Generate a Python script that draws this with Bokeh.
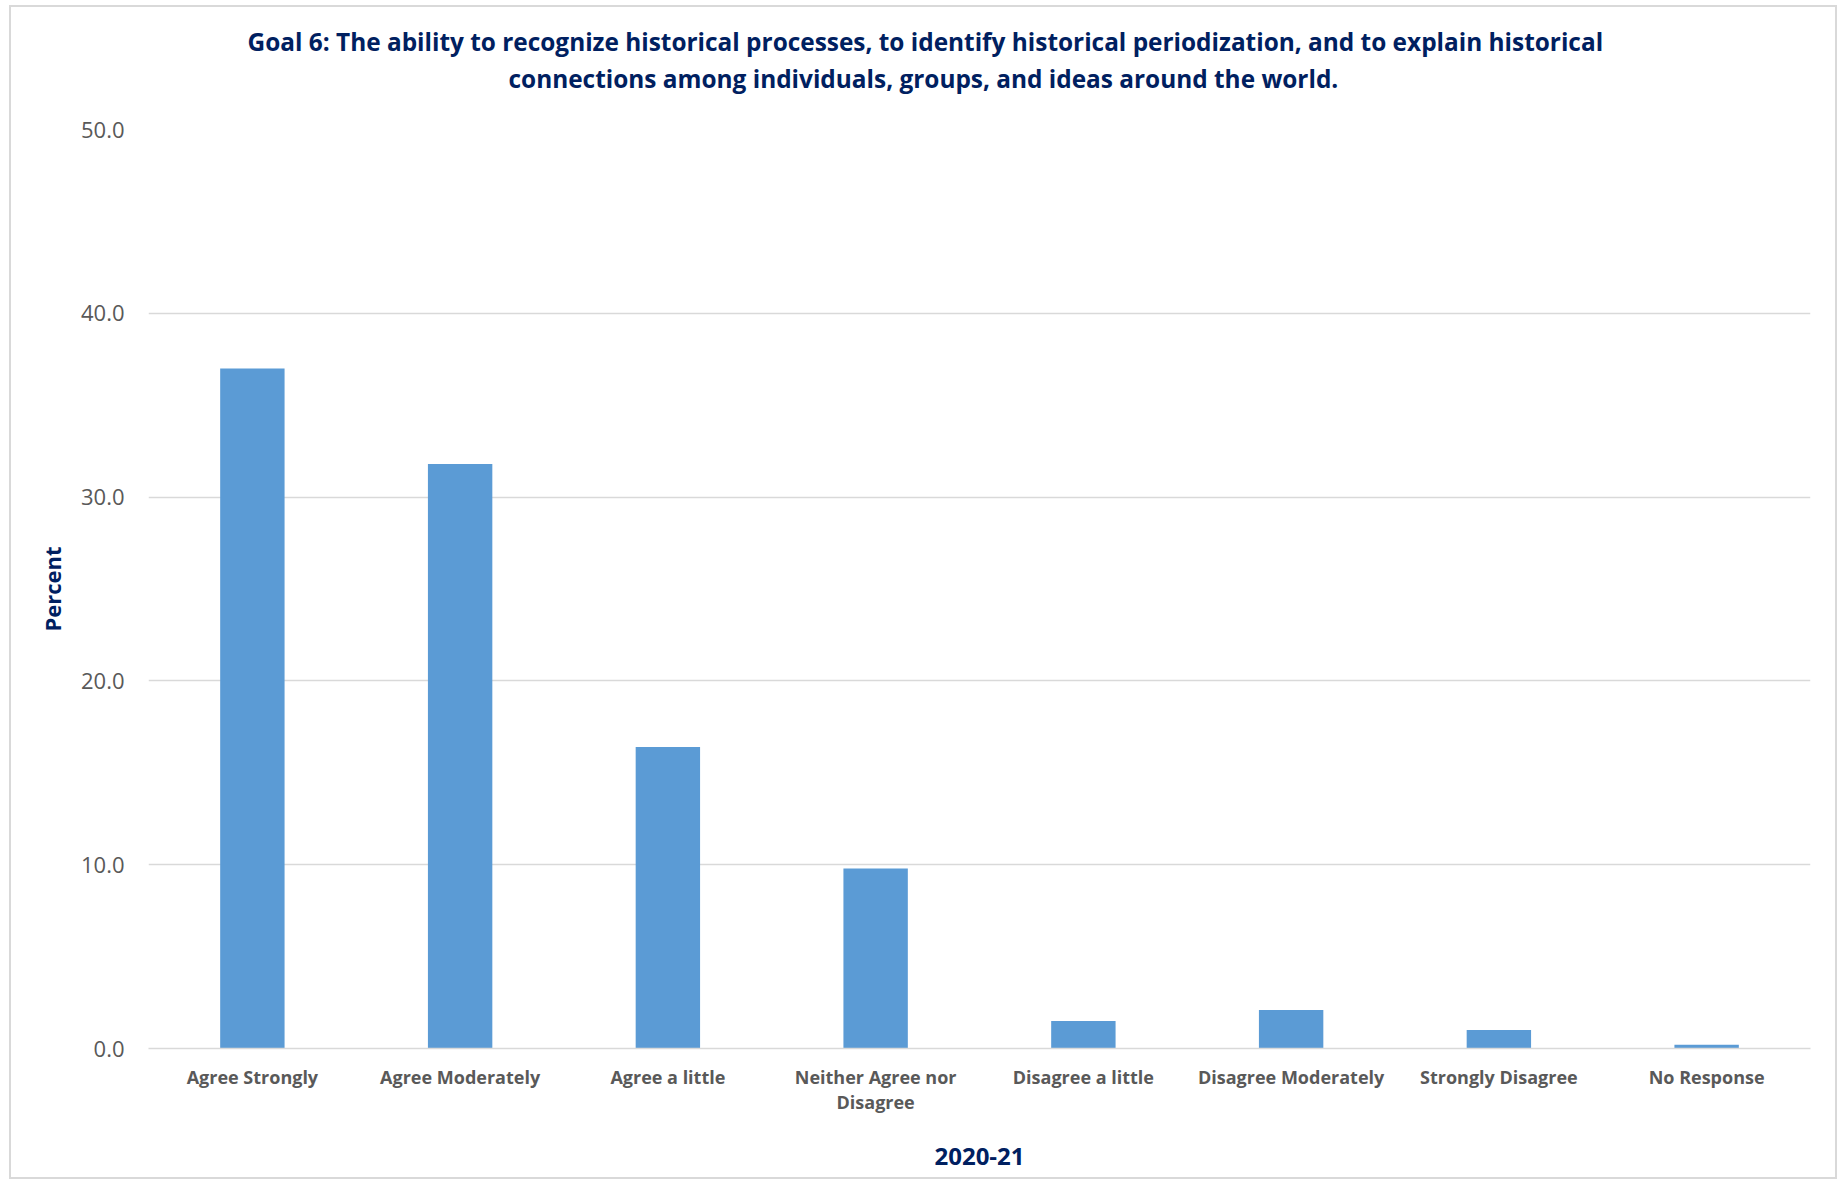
from bokeh.plotting import figure
from bokeh.models import Range1d, FactorRange, PrintfTickFormatter, FixedTicker, Title
from bokeh.embed import file_html
from bokeh.resources import INLINE

categories = ["Agree Strongly", "Agree Moderately", "Agree a little",
              "Neither Agree nor\nDisagree", "Disagree a little",
              "Disagree Moderately", "Strongly Disagree", "No Response"]
percent = [37.0, 31.8, 16.4, 9.8, 1.5, 2.1, 1.0, 0.2]
y_ticks = [0, 10, 20, 30, 40, 50]

title_line1 = "Goal 6: The ability to recognize historical processes, to identify historical periodization, and to explain historical"
title_line2 = "connections among individuals, groups, and ideas around the world."

FONT = "Open Sans"
NAVY = "#002060"
GRAY = "#595959"

p = figure(width=1828, height=1174, x_range=FactorRange(*categories, range_padding=0),
           y_range=Range1d(0, 50), output_backend="svg", toolbar_location=None,
           min_border_left=137, min_border_right=29, min_border_top=122, min_border_bottom=133)

# spacer between plot area and title block
p.add_layout(Title(text=" ", text_font=FONT, text_font_size="10px", standoff=18), "above")
for txt, off in ((title_line2, 360), (title_line1, 99)):
    t = Title(text=txt, align="left", text_font=FONT, text_font_size="24.4px",
              text_font_style="bold", text_color=NAVY, standoff=2, offset=off)
    p.add_layout(t, "above")

p.vbar(x=categories, top=percent, width=0.31, fill_color="#5B9BD5", line_color=None)

p.outline_line_color = None
p.xgrid.grid_line_color = None
p.ygrid.grid_line_color = "#D9D9D9"
p.ygrid.grid_line_width = 1.5

p.yaxis.ticker = FixedTicker(ticks=y_ticks)
p.yaxis.formatter = PrintfTickFormatter(format="%.1f")
p.yaxis.axis_line_color = None
p.yaxis.major_tick_line_color = None
p.yaxis.minor_tick_line_color = None
p.yaxis.major_label_standoff = 18
p.yaxis.major_label_text_font = FONT
p.yaxis.major_label_text_font_size = "22px"
p.yaxis.major_label_text_color = GRAY
p.yaxis.axis_label = "Percent"
p.yaxis.axis_label_text_font = FONT
p.yaxis.axis_label_text_font_size = "22px"
p.yaxis.axis_label_text_font_style = "bold"
p.yaxis.axis_label_text_color = NAVY
p.yaxis.axis_label_standoff = 11

p.xaxis.axis_line_color = "#D9D9D9"
p.xaxis.axis_line_width = 1.5
p.xaxis.major_tick_line_color = None
p.xaxis.minor_tick_line_color = None
p.xaxis.major_label_standoff = 10
p.xaxis.major_label_text_font = FONT
p.xaxis.major_label_text_font_size = "18px"
p.xaxis.major_label_text_font_style = "bold"
p.xaxis.major_label_text_color = GRAY
p.xaxis.major_label_text_line_height = 1.05
p.xaxis.axis_label = "2020-21"
p.xaxis.axis_label_text_font = FONT
p.xaxis.axis_label_text_font_size = "24px"
p.xaxis.axis_label_text_font_style = "bold"
p.xaxis.axis_label_text_color = NAVY
p.xaxis.axis_label_standoff = 31

p.styles = {"margin-left": "9px", "margin-top": "5px", "border": "2px solid #D9D9D9"}

open("out.html", "w").write(file_html(p, INLINE))
